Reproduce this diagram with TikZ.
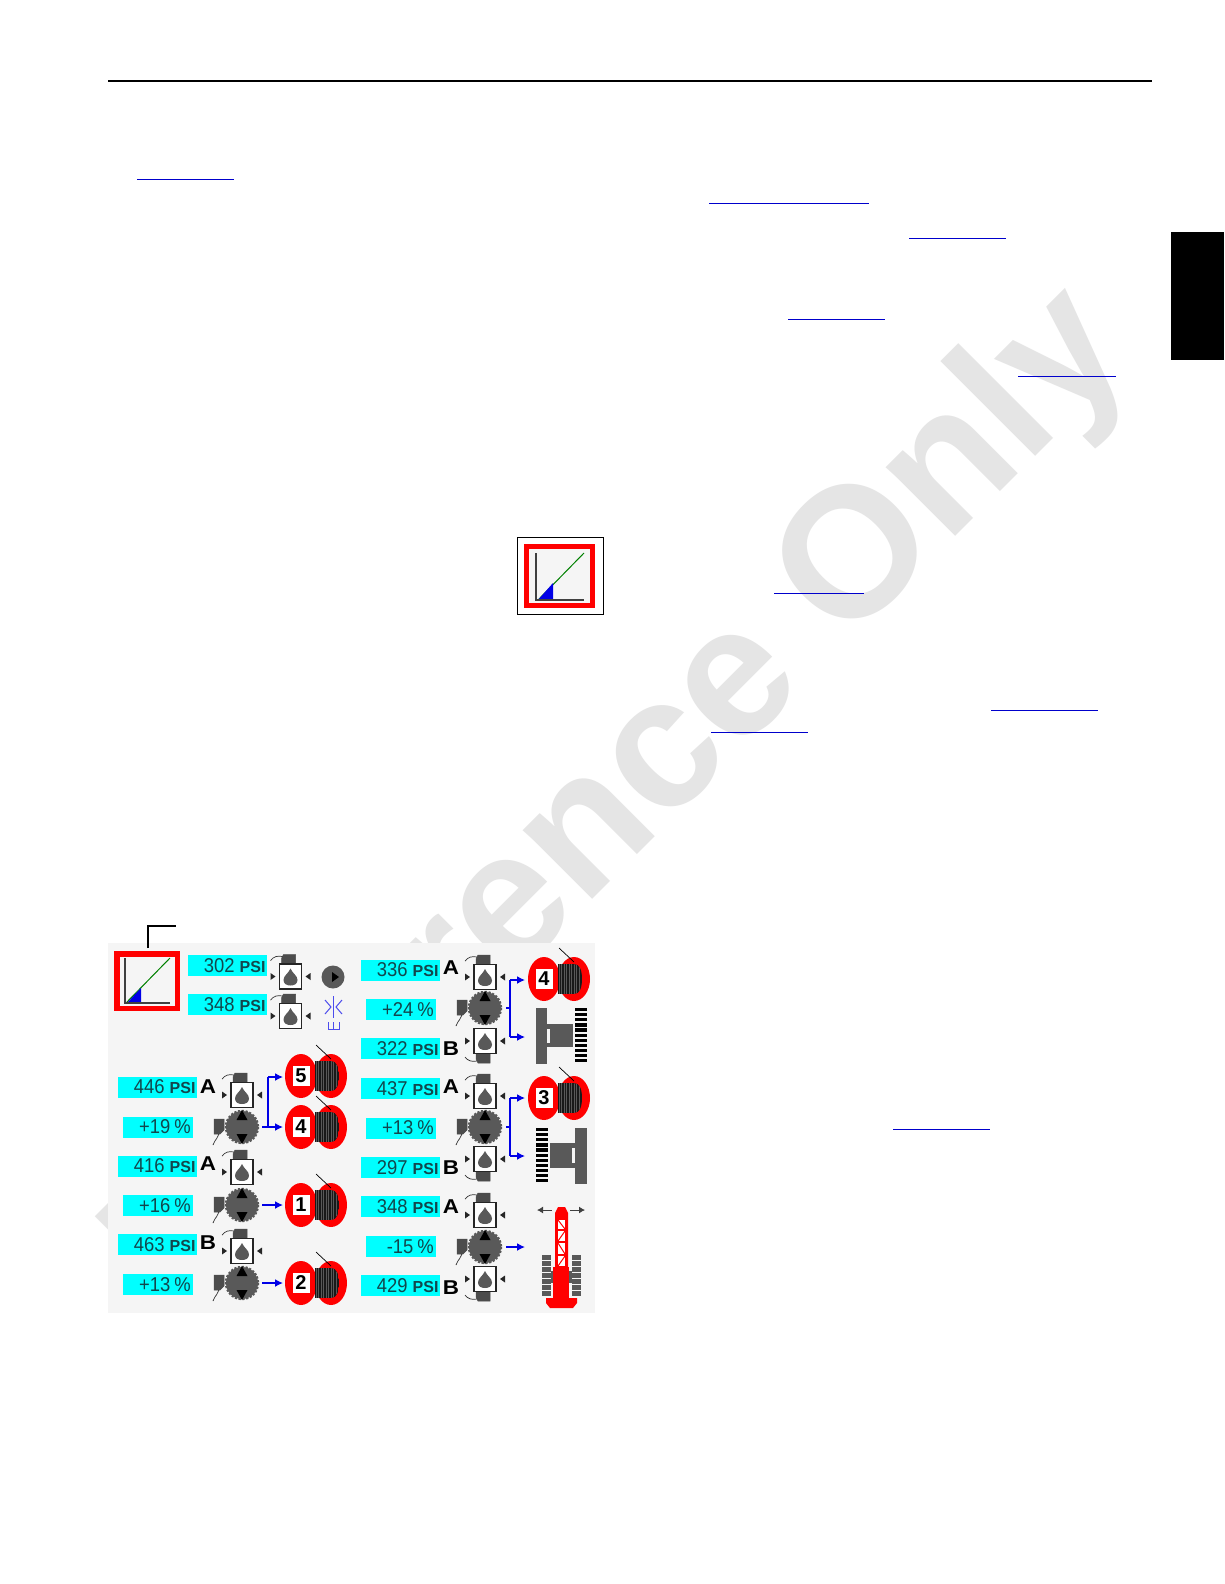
\documentclass[tikz,border=0pt]{standalone}
\usepackage{fontspec}
\setmainfont{Liberation Sans}
\newfontfamily\numfont[FakeStretch=0.92]{Liberation Sans}
\newfontfamily\portfont[FakeStretch=1.12]{Liberation Sans}
\usetikzlibrary{arrows.meta}
\definecolor{panelbg}{HTML}{F5F5F5}
\definecolor{wmark}{HTML}{E5E5E5}
\definecolor{lblcyan}{HTML}{00FFFF}
\definecolor{ink}{HTML}{12474D}
\definecolor{metal}{HTML}{595959}
\definecolor{linkblue}{HTML}{0000CC}
\definecolor{iconred}{HTML}{FF0000}
\definecolor{arrowblue}{HTML}{0000E6}
\tikzset{
  x=1pt,y=-1pt,
  psibox/.style={fill=lblcyan,text=ink,minimum width=79pt,minimum height=21pt,text width=75.5pt,align=right,inner xsep=1.5pt,inner ysep=0pt,anchor=west},
  pctbox/.style={fill=lblcyan,text=ink,minimum width=70pt,minimum height=21pt,text width=65pt,align=right,inner xsep=2.5pt,inner ysep=0pt,anchor=west},
  portlbl/.style={text=black,font=\portfont\bfseries\fontsize{20}{20}\selectfont,inner sep=0pt},
  drumnum/.style={fill=white,draw=none,minimum width=17pt,minimum height=20pt,inner sep=0pt,font=\bfseries\fontsize{20}{20}\selectfont},
  bluelink/.style={arrowblue,line width=1.5pt},
  bluearrow/.style={bluelink,-{Latex[length=8pt,width=8pt]}},
  weblink/.style={linkblue,line width=1pt},
  valvebox/.style={fill=white,draw=black!85,line width=1.3pt},
  solen/.style={fill=metal!85!black,draw=black!70,line width=.5pt},
  wire/.style={draw=black!80,line width=.7pt},
  orifice/.style={draw=arrowblue!70,line width=1pt},
}
% pressure and percent labels
\newcommand{\psilbl}[4]{\node[psibox] (#1) at (#2,#3) {{\numfont\fontsize{20}{20}\selectfont #4}\hspace{5pt}{\bfseries\fontsize{16}{16}\selectfont PSI}};}
\newcommand{\pctlbl}[4]{\node[pctbox] (#1) at (#2,#3) {\numfont\fontsize{20}{20}\selectfont #4\hspace{4pt}\%};}
% valve: x, y, solenoid direction (-1 top, 1 bottom)
\newcommand{\valvesym}[3]{%
\begin{scope}[shift={(#1,#2)}]
  \fill[solen] (-9,{#3*13}) -- (-9,{#3*18}) -- (-7,{#3*22}) -- (5,{#3*22}) -- (5,{#3*13}) -- cycle;
  \draw[wire] (-20,{#3*16}) .. controls (-17,{#3*20}) and (-13,{#3*21}) .. (-8,{#3*20});
  \draw[valvebox] (-11,-12.5) rectangle (11,12.5);
  \fill[metal] (0,-8) .. controls (2,-3) and (7,-1) .. (7,3.5) .. controls (7,7.5) and (3.5,9) .. (0,9) .. controls (-3.5,9) and (-7,7.5) .. (-7,3.5) .. controls (-7,-1) and (-2,-3) .. (0,-8) -- cycle;
  \fill[black!85] (-20,-3.5) -- (-15,0) -- (-20,3.5) -- cycle;
  \fill[black!85] (20,-3.5) -- (15,0) -- (20,3.5) -- cycle;
\end{scope}}
% pump/motor disc
\newcommand{\motorsym}[2]{%
\begin{scope}[shift={(#1,#2)}]
  \draw[wire] (-23,4) .. controls (-23,11) and (-27,12) .. (-29,18);
  \fill[solen] (-28,-8) -- (-18,-8) -- (-18,3) -- (-22,7) -- (-28,7) -- cycle;
  \fill[metal] (0,0) circle[radius=16];
  \draw[metal,line width=2pt,dash pattern=on 2.2pt off 1.6pt] (0,0) circle[radius=16.2];
  \fill[black] (0,-17) -- (5.5,-7) -- (-5.5,-7) -- cycle;
  \fill[black] (0,17) -- (5.5,7) -- (-5.5,7) -- cycle;
\end{scope}}
% winch drum
\newcommand{\drumsym}[4]{%
\begin{scope}[shift={(#1,#2)}]
  \fill[iconred] (0,0) ellipse[x radius=16,y radius=22];
  \fill[iconred] (30,0) ellipse[x radius=16,y radius=22];
  \begin{scope}
    \clip (14,-15) -- (30,-15) .. controls (36,-15) and (38,-8) .. (38,0) .. controls (38,8) and (36,15) .. (30,15) -- (14,15) -- cycle;
    \fill[black!90] (14,-15) rectangle (38,15);
    \foreach \hx in {15,17.5,...,37}{\draw[metal,line width=.6pt] (\hx,-15) -- (\hx,15);}
  \end{scope}
  \draw[black,line width=.7pt] (15,-31) -- (30,-17);
  \node[drumnum] (#3) at (0,0) {#4};
\end{scope}}
% crawler ladder track
\newcommand{\laddersym}[3]{%
  \foreach \ry in {0,1,...,10}{\fill[black] (#1,{#2+\ry*5.1}) rectangle ({#1+#3},{#2+\ry*5.1+3.2});}}
\begin{document}
\begin{tikzpicture}
\useasboundingbox (0,0) rectangle (1224,1584);
\fill[white] (0,0) rectangle (1224,1584);
% watermark
\node[text=wmark,rotate=45,anchor=base west,inner sep=0pt,font=\bfseries\fontsize{185}{185}\selectfont] (watermark) at (176,1316) {Reference Only};
% page furniture
\draw[black,line width=2pt] (108,81) -- (1152,81);
\fill[black] (1171,232) rectangle (1224,360);
\foreach \xa/\xb/\yy in {137/234/179, 709/869/203, 909/1006/238, 788/885/319, 1018/1116/376, 774/864/593, 991/1098/710, 711/808/732, 893/990/1129}{
  \draw[weblink] (\xa,\yy) -- (\xb,\yy);
}
% stand-alone icon
\draw[black,line width=1pt,fill=white] (517,537) rectangle (603,614);
\draw[iconred,line width=5pt,fill=panelbg] (526,546.5) rectangle (592.5,605.5);
\draw[green!50!black,line width=1pt] (538,600) -- (584,553);
\fill[arrowblue] (538,600) -- (553,600) -- (553,583) -- cycle;
\draw[black!75,line width=1.2pt] (536,553) -- (536,600) -- (584,600);
% panel
\fill[panelbg] (108,943) rectangle (595,1313);
% leader
\draw[black,line width=2pt] (148,948) -- (148,926) -- (176,926);
% panel icon
\draw[iconred,line width=5.5pt,fill=panelbg] (116.75,953.75) rectangle (177.25,1008.25);
\draw[green!50!black,line width=1pt] (126,1003) -- (170,958);
\fill[arrowblue] (127,1003) -- (141,1003) -- (141,988) -- cycle;
\draw[black!75,line width=1.2pt] (125,958) -- (125,1003) -- (170,1003);
% labels, upper middle
\psilbl{p302}{188}{965.5}{302}
\psilbl{p348a}{188}{1004.5}{348}
\valvesym{290.5}{976.5}{-1}
\valvesym{290.5}{1016}{-1}
\fill[metal] (333,977) circle[radius=11.5];
\fill[black] (332,972) -- (339,977) -- (332,982) -- cycle;
\draw[orifice] (325,1000) -- (331,1007) -- (325,1014);
\draw[orifice] (342,1000) -- (336,1007) -- (342,1014);
\draw[orifice] (333.5,996) -- (333.5,1018);
\draw[orifice] (328,1022) -- (328,1029) -- (339,1029) -- (339,1022);
\draw[orifice] (333.5,1022) -- (333.5,1029);
% left column
\psilbl{p446}{118}{1087}{446}
\node[portlbl] (a1) at (208,1087) {A};
\valvesym{242}{1095}{-1}
\pctlbl{q19}{123}{1127}{+19}
\motorsym{242}{1127}
\psilbl{p416}{118}{1166}{416}
\node[portlbl] (a2) at (208,1164) {A};
\valvesym{242}{1172}{-1}
\pctlbl{q16}{123}{1205.5}{+16}
\motorsym{242}{1205}
\psilbl{p463}{118}{1244.5}{463}
\node[portlbl] (b2) at (208,1243) {B};
\valvesym{242}{1251}{-1}
\pctlbl{q13a}{123}{1284.5}{+13}
\motorsym{242}{1283}
\drumsym{301}{1076}{d5}{5}
\drumsym{301}{1127}{d4a}{4}
\drumsym{301}{1205}{d1}{1}
\drumsym{301}{1283}{d2}{2}
% right column
\psilbl{p336}{361}{970}{336}
\node[portlbl] (a3) at (451,968) {A};
\valvesym{485}{977}{-1}
\pctlbl{q24}{366}{1009.5}{+24}
\motorsym{485}{1008}
\valvesym{485}{1041}{1}
\psilbl{p322}{361}{1048.5}{322}
\node[portlbl] (b3) at (451,1049) {B};
\psilbl{p437}{361}{1088.5}{437}
\node[portlbl] (a4) at (451,1087) {A};
\valvesym{485}{1096}{-1}
\pctlbl{q13b}{366}{1128}{+13}
\motorsym{485}{1127}
\valvesym{485}{1159}{1}
\psilbl{p297}{361}{1167.5}{297}
\node[portlbl] (b4) at (451,1168) {B};
\psilbl{p348b}{361}{1206.5}{348}
\node[portlbl] (a5) at (451,1207) {A};
\valvesym{485}{1215}{-1}
\pctlbl{q15}{366}{1246.5}{-15}
\motorsym{485}{1247}
\valvesym{485}{1279}{1}
\psilbl{p429}{361}{1285.5}{429}
\node[portlbl] (b5) at (451,1288) {B};
\drumsym{544}{979}{d4b}{4}
\drumsym{544}{1098}{d3}{3}
% crawler icons
\fill[metal] (536,1008) rectangle (547,1064);
\fill[metal] (547,1024) rectangle (573,1047);
\fill[panelbg] (547,1029) rectangle (550,1043);
\laddersym{575}{1008}{12}
\laddersym{536}{1128}{12}
\fill[metal] (575,1128) rectangle (587,1184);
\fill[metal] (550,1143) rectangle (575,1168);
\fill[panelbg] (572,1148) rectangle (575,1163);
% crane icon
\fill[metal] (542,1255) rectangle (551,1297);
\fill[metal] (572,1255) rectangle (581,1297);
\foreach \ty in {1260,1266,...,1296}{
  \draw[panelbg,line width=.8pt] (542,\ty) -- (551,\ty);
  \draw[panelbg,line width=.8pt] (572,\ty) -- (581,\ty);
}
\fill[metal] (551,1271) rectangle (572,1283);
\fill[iconred] (555,1267) -- (555,1213) -- (558,1207) -- (565,1207) -- (568,1213) -- (568,1267) -- cycle;
\fill[white] (558,1220) rectangle (565,1229);
\fill[white] (558,1231) rectangle (565,1241);
\fill[white] (558,1243) rectangle (565,1254);
\fill[white] (558,1256) rectangle (565,1266);
\draw[iconred,line width=1pt] (558,1220) -- (565,1229) (558,1241) -- (565,1231) (558,1243) -- (565,1254) (558,1266) -- (565,1256);
\fill[iconred] (553,1267) rectangle (569,1298);
\fill[iconred] (546,1298) -- (577,1298) -- (577,1303) -- (573,1308) -- (550,1308) -- (546,1303) -- cycle;
\draw[black!75,line width=1pt,-{Latex[length=6pt,width=7pt]}] (552,1210) -- (537,1210);
\draw[black!75,line width=1pt,-{Latex[length=6pt,width=7pt]}] (570,1210) -- (585,1210);
% connectors
\coordinate (mL) at (262,1127);
\coordinate (jLt) at (268,1077);
\coordinate (jLb) at (268,1127);
\coordinate (inL5) at (283,1077);
\coordinate (inL4) at (283,1127);
\draw[bluelink] (jLt) -- (jLb);
\draw[bluearrow] (jLt) -- (inL5);
\draw[bluearrow] (mL) -- (inL4);
\coordinate (m1) at (262,1205);
\coordinate (in1) at (283,1205);
\draw[bluearrow] (m1) -- (in1);
\coordinate (m2) at (262,1283);
\coordinate (in2) at (283,1283);
\draw[bluearrow] (m2) -- (in2);
\coordinate (mR1) at (506,1008);
\coordinate (jR1) at (510,1008);
\coordinate (jR1t) at (510,980);
\coordinate (jR1b) at (510,1037);
\coordinate (inR4) at (525,980);
\coordinate (inT1) at (525,1037);
\draw[bluelink] (mR1) -- (jR1);
\draw[bluelink] (jR1t) -- (jR1b);
\draw[bluearrow] (jR1t) -- (inR4);
\draw[bluearrow] (jR1b) -- (inT1);
\coordinate (mR2) at (506,1127);
\coordinate (jR2) at (510,1127);
\coordinate (jR2t) at (510,1098);
\coordinate (jR2b) at (510,1156);
\coordinate (inR3) at (525,1098);
\coordinate (inT2) at (525,1156);
\draw[bluelink] (mR2) -- (jR2);
\draw[bluelink] (jR2t) -- (jR2b);
\draw[bluearrow] (jR2t) -- (inR3);
\draw[bluearrow] (jR2b) -- (inT2);
\coordinate (mR3) at (506,1247);
\coordinate (inC) at (525,1247);
\draw[bluearrow] (mR3) -- (inC);
\end{tikzpicture}
\end{document}
